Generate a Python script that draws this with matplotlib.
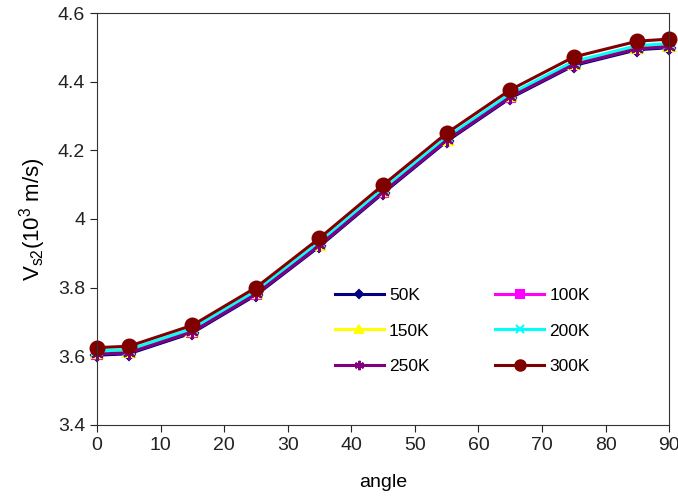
import numpy as np
import matplotlib
matplotlib.use('Agg')
import matplotlib.pyplot as plt

plt.rcParams['font.family'] = ['Liberation Sans', 'DejaVu Sans']

angle = [0, 5, 15, 25, 35, 45, 55, 65, 75, 85, 90]

v50 = [3.603, 3.607, 3.668, 3.778, 3.920, 4.075, 4.226, 4.352, 4.447, 4.493, 4.499]
v100 = [3.607, 3.611, 3.672, 3.782, 3.924, 4.079, 4.230, 4.356, 4.451, 4.497, 4.503]
v150 = [3.611, 3.615, 3.676, 3.786, 3.928, 4.083, 4.234, 4.360, 4.455, 4.501, 4.507]
v200 = [3.615, 3.619, 3.680, 3.790, 3.932, 4.087, 4.238, 4.364, 4.459, 4.505, 4.511]
v250 = [3.606, 3.610, 3.671, 3.781, 3.923, 4.078, 4.229, 4.355, 4.450, 4.496, 4.502]
v300 = [3.625, 3.629, 3.690, 3.800, 3.944, 4.099, 4.250, 4.376, 4.472, 4.518, 4.524]

labels = ['50K', '100K', '150K', '200K', '250K', '300K']
colors = ['#000080', '#FF00FF', '#FFFF00', '#00FFFF', '#800080', '#800000']
markers = ['D', 's', '^', 'x', (6, 2, 0), 'o']
msizes = [6, 7, 8, 8, 9, 10]

fig = plt.figure(figsize=(6.78, 5.01), dpi=100)
ax = fig.add_axes([0.143, 0.152, 0.844, 0.822])

series = [v50, v100, v150, v200, v250, v300]
handles = []
for vals, lab, c, m, ms in zip(series, labels, colors, markers, msizes):
    h, = ax.plot(angle, vals, color=c, marker=m, markersize=ms, lw=2.2,
                 markeredgewidth=1.5, label=lab, clip_on=False)
    handles.append(h)

ax.set_xlim(0, 90)
ax.set_ylim(3.4, 4.6)
ax.set_xticks(range(0, 91, 10))
ax.set_yticks([3.4, 3.6, 3.8, 4.0, 4.2, 4.4, 4.6])
ax.set_yticklabels(['3.4', '3.6', '3.8', '4', '4.2', '4.4', '4.6'])
ax.tick_params(labelsize=14, colors='#222222', direction='out', length=5)
for s in ax.spines.values():
    s.set_color('#333333')

ax.set_xlabel('angle', fontsize=14, labelpad=15)
ax.set_ylabel(r'V$_{\mathregular{s2}}$(10$^{\mathregular{3}}$ m/s)', fontsize=16, labelpad=7)

# row-major order like the original legend
order = [0, 2, 4, 1, 3, 5]
ax.legend([handles[i] for i in order], [labels[i] for i in order],
          ncol=2, loc='center left', bbox_to_anchor=(0.416, 0.228), frameon=False,
          fontsize=12.5, handlelength=2.8, columnspacing=3.8, labelspacing=1.15,
          handletextpad=0.3, borderpad=0, borderaxespad=0, markerscale=0.75)

fig.savefig('out.png', dpi=100)
